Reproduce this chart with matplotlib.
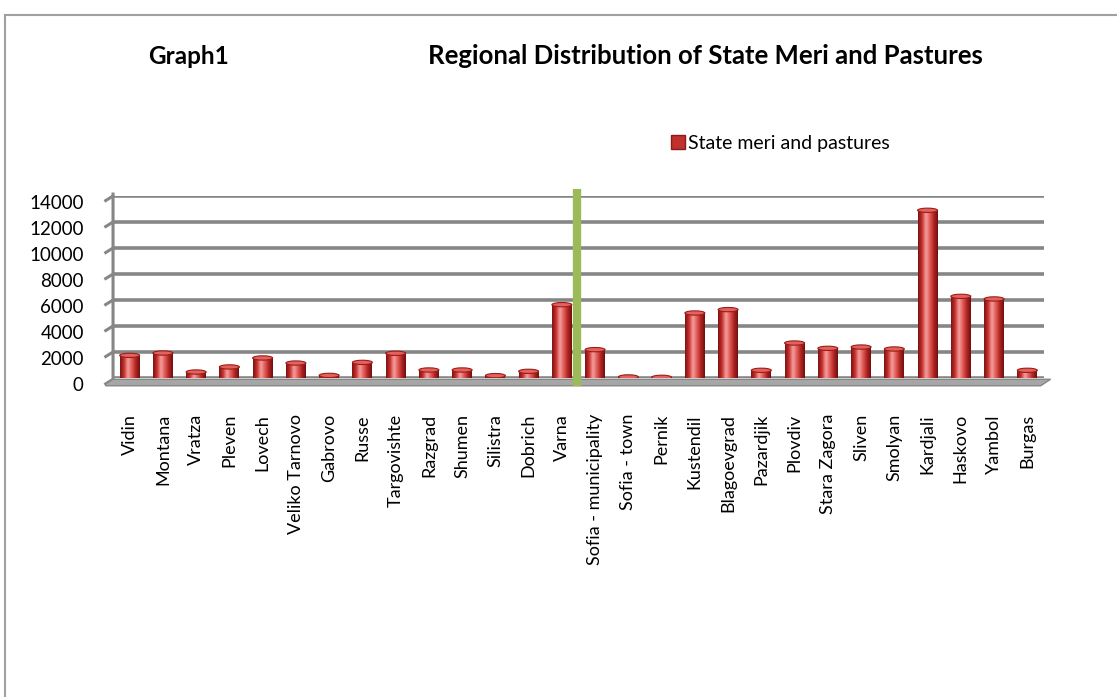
"""Regional distribution of state meri and pastures - 3D-ish cylinder column chart."""
import matplotlib
matplotlib.use("Agg")
import matplotlib.pyplot as plt
import matplotlib.transforms as mtransforms
import numpy as np
from matplotlib.colors import LinearSegmentedColormap
from matplotlib.patches import Ellipse, Patch, Polygon
from matplotlib.lines import Line2D

# Data
regions = ["Vidin", "Montana", "Vratza", "Pleven", "Lovech", "Veliko Tarnovo",
           "Gabrovo", "Russe", "Targovishte", "Razgrad", "Shumen", "Silistra",
           "Dobrich", "Varna", "Sofia - municipality", "Sofia - town", "Pernik",
           "Kustendil", "Blagoevgrad", "Pazardjik", "Plovdiv", "Stara Zagora",
           "Sliven", "Smolyan", "Kardjali", "Haskovo", "Yambol", "Burgas"]
meri = [1740, 1920, 460, 850, 1540, 1150, 200, 1200, 1900, 615, 615, 180, 510,
        5640, 2180, 80, 50, 5000, 5260, 590, 2690, 2280, 2380, 2230, 12900,
        6280, 6080, 590]
yticks = [0, 2000, 4000, 6000, 8000, 10000, 12000, 14000]
divider_after = "Varna"

# Theme
RED = "#C0302C"
GRID = "#868686"
GREEN = "#9BBB59"
FONT = ["Lato", "DejaVu Sans"]
plt.rcParams["font.family"] = FONT

cyl = LinearSegmentedColormap.from_list(
    "cyl", ["#7A1212", "#C8302C", "#F4A0A0", "#E05A56", "#B02420", "#6E1010"])

fig = plt.figure(figsize=(11.17, 6.97), dpi=100)
ax = fig.add_axes([0.1012, 0.4577, 0.8334, 0.2611])

x = np.arange(len(regions))
w = 0.6
bars = ax.bar(x, meri, w, color=RED, zorder=3)
grad = np.linspace(0, 1, 64).reshape(1, -1)
ell_h = 330  # ellipse height in data units (~4 px)
for b, v in zip(bars, meri):
    x0 = b.get_x()
    im = ax.imshow(grad, cmap=cyl, aspect="auto", zorder=3,
                   extent=[x0, x0 + w, 0, v], interpolation="bicubic")
    im.set_clip_path(b)
    ax.add_patch(Ellipse((x0 + w / 2, 0), w, ell_h, facecolor="#A8221F",
                         edgecolor="none", zorder=2.9))
    ax.add_patch(Ellipse((x0 + w / 2, v), w, ell_h, facecolor="#E4625E",
                         edgecolor="#9A1C18", linewidth=0.8, zorder=4))

ax.set_xlim(-0.5, len(regions) - 0.5)
ax.set_ylim(0, 14000)
ax.set_yticks(yticks)
ax.set_yticklabels([str(t) for t in yticks], fontsize=13.5)
ax.set_xticks(x)
ax.set_xticklabels(regions, rotation=90, fontsize=13)
ax.tick_params(axis="y", length=0, pad=21)
ax.tick_params(axis="x", length=0, pad=26)
shift = mtransforms.ScaledTranslation(0, -6 / 100, fig.dpi_scale_trans)
for lab in ax.get_yticklabels():
    lab.set_transform(lab.get_transform() + shift)
for s in ax.spines.values():
    s.set_visible(False)
ax.yaxis.grid(True, color=GRID, linewidth=2.6, zorder=1)
ax.set_axisbelow(True)

# Left wall edge and floor
ax.plot([-0.72, -0.5, -0.5], [-450, -100, 14150], color=GRID, lw=2.2,
        clip_on=False, zorder=1)
for t in yticks[1:]:
    ax.plot([-0.72, -0.5], [t - 350, t], color=GRID, lw=2.2,
            clip_on=False, zorder=1)
floor = Polygon([(-0.72, -450), (-0.5, -100), (27.7, -100), (27.4, -600),
                 (-0.72, -600)], closed=True, facecolor="#A6A6A6",
                edgecolor=GRID, lw=1, clip_on=False, zorder=2)
ax.add_patch(floor)

# Green divider between Varna and Sofia - municipality
gx = regions.index(divider_after) + 0.45
ax.plot([gx, gx], [-650, 14500], color=GREEN, lw=6, clip_on=False,
        solid_capstyle="butt", zorder=6)

# Titles and legend
fig.text(148 / 1117, 1 - 56 / 697, "Graph1", fontsize=17.5,
         fontweight="bold", va="center", ha="left")
fig.text(428 / 1117, 1 - 56 / 697,
         "Regional Distribution of State Meri and Pastures", fontsize=18.5,
         fontweight="bold", va="center", ha="left")
fig.legend(handles=[Patch(facecolor=RED, edgecolor="#8B1A1A",
                          label="State meri and pastures")],
           loc="center left", bbox_to_anchor=(0.585, 1 - 143 / 697),
           frameon=False, fontsize=14, handlelength=0.7,
           handleheight=0.7, handletextpad=0.2)

# Outer frame (top and left edges visible)
fig.add_artist(Line2D([4.5 / 1117, 1.0], [1 - 15 / 697, 1 - 15 / 697],
                      color="#A0A0A0", lw=1.5))
fig.add_artist(Line2D([4.5 / 1117, 4.5 / 1117], [0, 1 - 15 / 697],
                      color="#A0A0A0", lw=1.5))

fig.savefig("out.png", dpi=100, facecolor="white")
